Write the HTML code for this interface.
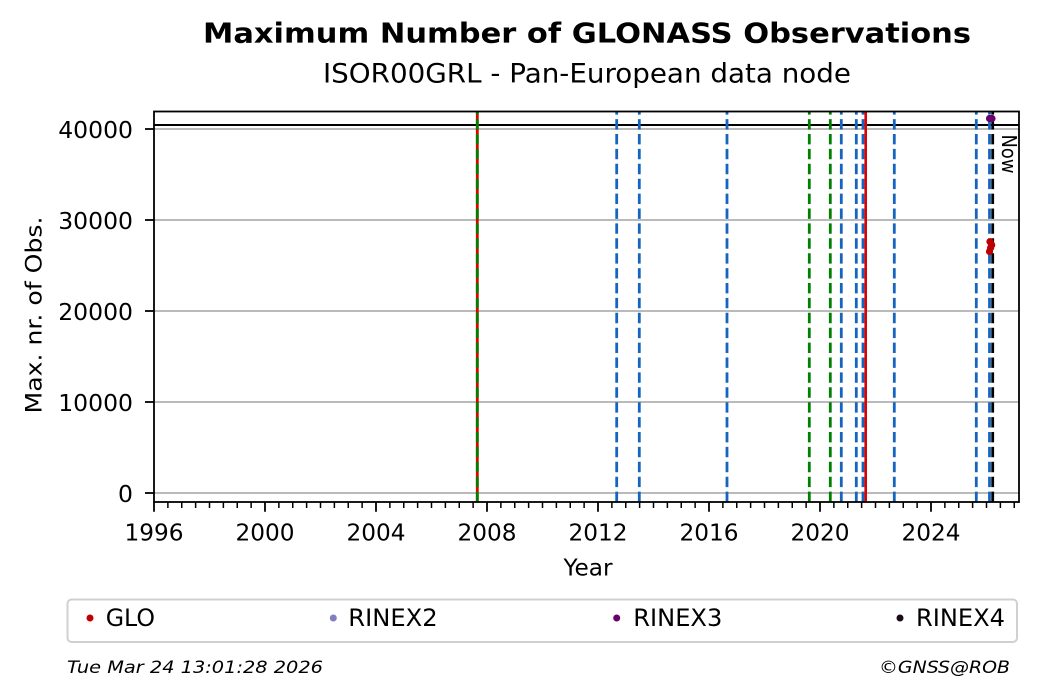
<!DOCTYPE html>
<html><head><meta charset="utf-8"><style>
html,body{margin:0;padding:0;background:#fff;}
svg{display:block;}
text{font-family:"DejaVu Sans","Liberation Sans",sans-serif;fill:#000;}
</style></head><body>
<svg width="1040" height="699" viewBox="0 0 1040 699" xmlns="http://www.w3.org/2000/svg">
<rect width="1040" height="699" fill="#fff"/>
<text x="587" y="42.3" font-size="28" font-weight="bold" text-anchor="middle" textLength="768" lengthAdjust="spacingAndGlyphs">Maximum Number of GLONASS Observations</text>
<text x="587" y="82.7" font-size="27" text-anchor="middle" textLength="528" lengthAdjust="spacingAndGlyphs">ISOR00GRL - Pan-European data node</text>

<!-- gridlines -->
<g stroke="#b0b0b0" stroke-width="1.8">
<line x1="154" y1="493" x2="1019" y2="493"/>
<line x1="154" y1="402" x2="1019" y2="402"/>
<line x1="154" y1="311" x2="1019" y2="311"/>
<line x1="154" y1="220" x2="1019" y2="220"/>
<line x1="154" y1="129" x2="1019" y2="129"/>
</g>
<line x1="154" y1="125" x2="1019" y2="125" stroke="#000" stroke-width="2"/>

<!-- vertical event lines -->
<line x1="477.3" y1="502" x2="477.3" y2="112" stroke="#e00000" stroke-width="2.8"/>
<g stroke-width="2.8" stroke-dasharray="10.4 4.5" fill="none">
<line x1="477.3" y1="502" x2="477.3" y2="112" stroke="#007f00"/>
<line x1="616.7" y1="502" x2="616.7" y2="112" stroke="#1565c0"/>
<line x1="639.3" y1="502" x2="639.3" y2="112" stroke="#1565c0"/>
<line x1="727" y1="502" x2="727" y2="112" stroke="#1565c0"/>
<line x1="809.3" y1="502" x2="809.3" y2="112" stroke="#007f00"/>
<line x1="830.3" y1="502" x2="830.3" y2="112" stroke="#007f00"/>
<line x1="841.3" y1="502" x2="841.3" y2="112" stroke="#1565c0"/>
<line x1="856.3" y1="502" x2="856.3" y2="112" stroke="#1565c0"/>
<line x1="863" y1="502" x2="863" y2="112" stroke="#1565c0"/>
<line x1="894.3" y1="502" x2="894.3" y2="112" stroke="#1565c0"/>
<line x1="976.3" y1="502" x2="976.3" y2="112" stroke="#1565c0"/>
<line x1="989.5" y1="502" x2="989.5" y2="112" stroke="#1565c0"/>
<line x1="992.7" y1="502" x2="992.7" y2="112" stroke="#000"/>
</g>
<line x1="865.7" y1="502" x2="865.7" y2="112" stroke="#e00000" stroke-width="2.6"/>

<text transform="translate(1002,134.5) rotate(90)" font-size="20" textLength="39" lengthAdjust="spacingAndGlyphs">Now</text>

<!-- data points -->
<g fill="#6a006a">
<circle cx="989.5" cy="118.5" r="3.6"/>
<circle cx="992" cy="118.5" r="3.6"/>
</g>
<g fill="#c00000">
<circle cx="990" cy="241.7" r="3.6"/>
<circle cx="991.7" cy="245" r="3.6"/>
<circle cx="990.5" cy="248" r="3.6"/>
<circle cx="989.5" cy="251.5" r="3.6"/>
</g>

<!-- frame -->
<rect x="154" y="111.5" width="865" height="390.5" fill="none" stroke="#000" stroke-width="1.8"/>

<!-- y ticks -->
<g stroke="#000" stroke-width="1.8">
<line x1="145" y1="493" x2="154" y2="493"/>
<line x1="145" y1="402" x2="154" y2="402"/>
<line x1="145" y1="311" x2="154" y2="311"/>
<line x1="145" y1="220" x2="154" y2="220"/>
<line x1="145" y1="129" x2="154" y2="129"/>
</g>
<g font-size="23.5" text-anchor="end">
<text x="133" y="502">0</text>
<text x="133" y="411">10000</text>
<text x="133" y="320">20000</text>
<text x="133" y="229">30000</text>
<text x="133" y="138">40000</text>
</g>
<text transform="translate(41.7,315) rotate(-90)" font-size="22" text-anchor="middle" textLength="197" lengthAdjust="spacingAndGlyphs">Max. nr. of Obs.</text>

<!-- x ticks -->
<path stroke="#000" stroke-width="1.5" fill="none" d="M167.875 502v6M181.75 502v6M195.625 502v6M209.5 502v6M223.375 502v6M237.25 502v6M251.125 502v6M278.875 502v6M292.75 502v6M306.625 502v6M320.5 502v6M334.375 502v6M348.25 502v6M362.125 502v6M389.875 502v6M403.75 502v6M417.625 502v6M431.5 502v6M445.375 502v6M459.25 502v6M473.125 502v6M500.875 502v6M514.75 502v6M528.625 502v6M542.5 502v6M556.375 502v6M570.25 502v6M584.125 502v6M611.875 502v6M625.75 502v6M639.625 502v6M653.5 502v6M667.375 502v6M681.25 502v6M695.125 502v6M722.875 502v6M736.75 502v6M750.625 502v6M764.5 502v6M778.375 502v6M792.25 502v6M806.125 502v6M833.875 502v6M847.75 502v6M861.625 502v6M875.5 502v6M889.375 502v6M903.25 502v6M917.125 502v6M944.875 502v6M958.75 502v6M972.625 502v6M986.5 502v6M1000.375 502v6M1014.25 502v6"/>
<path stroke="#000" stroke-width="1.8" fill="none" d="M154 502v9.7M265 502v9.7M376 502v9.7M487 502v9.7M598 502v9.7M709 502v9.7M820 502v9.7M931 502v9.7"/>
<g font-size="23.2" text-anchor="middle">
<text x="154" y="540.7">1996</text>
<text x="265" y="540.7">2000</text>
<text x="376" y="540.7">2004</text>
<text x="487" y="540.7">2008</text>
<text x="598" y="540.7">2012</text>
<text x="709" y="540.7">2016</text>
<text x="820" y="540.7">2020</text>
<text x="931" y="540.7">2024</text>
</g>
<text x="588" y="575.7" font-size="23.2" text-anchor="middle">Year</text>

<!-- legend -->
<rect x="67.5" y="599.5" width="949.5" height="42.5" rx="4" ry="4" fill="#fff" stroke="#d0d0d0" stroke-width="2"/>
<circle cx="90" cy="618" r="3.5" fill="#c00000"/>
<circle cx="333.3" cy="618" r="3.5" fill="#8080c0"/>
<circle cx="616.7" cy="618" r="3.5" fill="#6a006a"/>
<circle cx="900" cy="618" r="3.5" fill="#1a0a1a"/>
<g font-size="24">
<text x="105.7" y="626" textLength="49.3" lengthAdjust="spacingAndGlyphs">GLO</text>
<text x="348.3" y="626" textLength="89.3" lengthAdjust="spacingAndGlyphs">RINEX2</text>
<text x="633.3" y="626" textLength="89" lengthAdjust="spacingAndGlyphs">RINEX3</text>
<text x="916" y="626" textLength="89" lengthAdjust="spacingAndGlyphs">RINEX4</text>
</g>

<!-- footer -->
<text x="67" y="673" font-size="17" font-style="italic" textLength="256" lengthAdjust="spacingAndGlyphs">Tue Mar 24 13:01:28 2026</text>
<text x="879" y="673" font-size="17" font-style="italic" textLength="131" lengthAdjust="spacingAndGlyphs">©GNSS@ROB</text>
</svg>
</body></html>
